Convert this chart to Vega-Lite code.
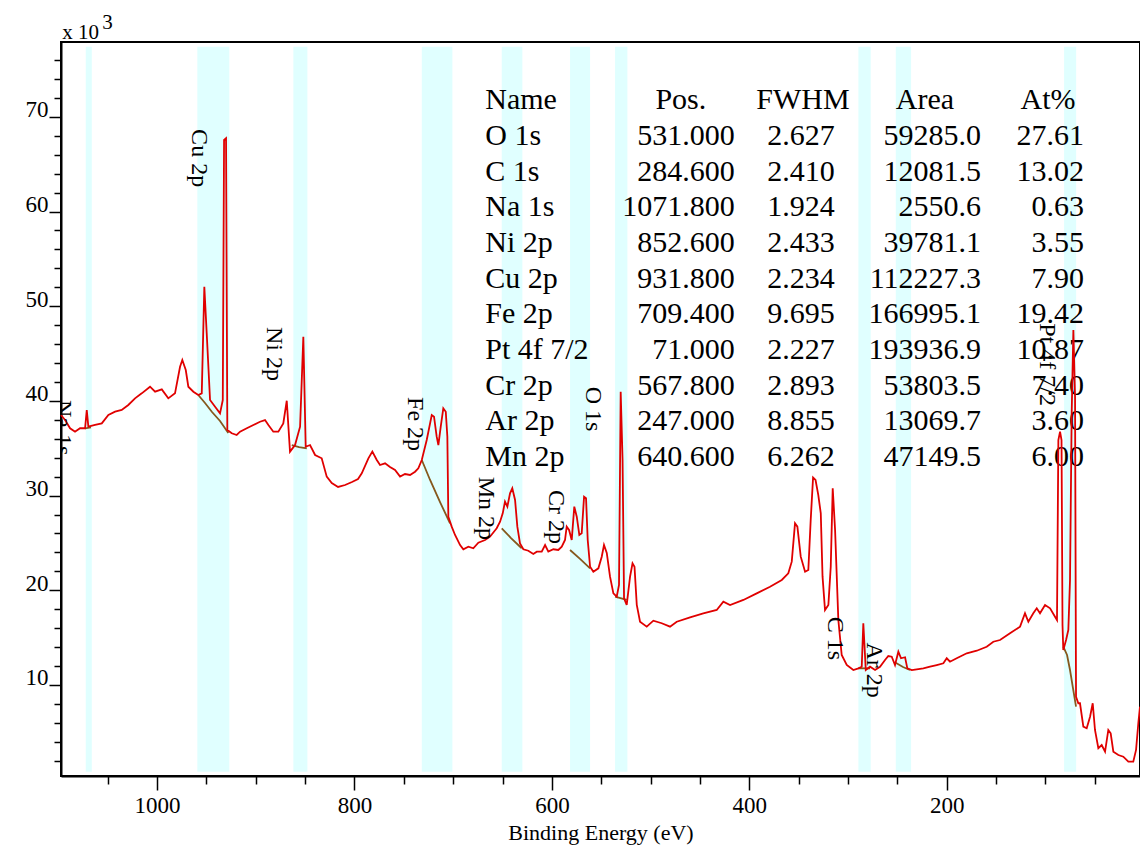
{
  "$schema": "https://vega.github.io/schema/vega-lite/v6.json",
  "autosize": {"type": "none"},
  "padding": {"left": 61, "top": 42, "right": 0, "bottom": 69},
  "width": 1079,
  "height": 734,
  "background": "white",
  "config": {"view": {"stroke": "black", "strokeWidth": 2}, "font": "Liberation Serif"},
  "datasets": {
    "bands": [
      {"peak": "Na 1s", "start": 1066.1, "end": 1072.2},
      {"peak": "Cu 2p", "start": 926.8, "end": 959.2},
      {"peak": "Ni 2p", "start": 847.7, "end": 861.9},
      {"peak": "Fe 2p", "start": 700.8, "end": 731.8},
      {"peak": "Mn 2p", "start": 629.9, "end": 650.8},
      {"peak": "Cr 2p", "start": 561.3, "end": 581.6},
      {"peak": "O 1s", "start": 523.5, "end": 536.0},
      {"peak": "C 1s", "start": 277.0, "end": 289.5},
      {"peak": "Ar 2p", "start": 236.1, "end": 251.6},
      {"peak": "Pt 4f 7/2", "start": 68.9, "end": 81.1}
    ],
    "table": [
      {"row": 0, "name": "Name", "pos": "Pos.", "fwhm": "FWHM", "area": "Area", "at": "At%"},
      {"row": 1, "name": "O 1s", "pos": "531.000", "fwhm": "2.627", "area": "59285.0", "at": "27.61"},
      {"row": 2, "name": "C 1s", "pos": "284.600", "fwhm": "2.410", "area": "12081.5", "at": "13.02"},
      {"row": 3, "name": "Na 1s", "pos": "1071.800", "fwhm": "1.924", "area": "2550.6", "at": "0.63"},
      {"row": 4, "name": "Ni 2p", "pos": "852.600", "fwhm": "2.433", "area": "39781.1", "at": "3.55"},
      {"row": 5, "name": "Cu 2p", "pos": "931.800", "fwhm": "2.234", "area": "112227.3", "at": "7.90"},
      {"row": 6, "name": "Fe 2p", "pos": "709.400", "fwhm": "9.695", "area": "166995.1", "at": "19.42"},
      {"row": 7, "name": "Pt 4f 7/2", "pos": "71.000", "fwhm": "2.227", "area": "193936.9", "at": "10.87"},
      {"row": 8, "name": "Cr 2p", "pos": "567.800", "fwhm": "2.893", "area": "53803.5", "at": "7.40"},
      {"row": 9, "name": "Ar 2p", "pos": "247.000", "fwhm": "8.855", "area": "13069.7", "at": "3.60"},
      {"row": 10, "name": "Mn 2p", "pos": "640.600", "fwhm": "6.262", "area": "47149.5", "at": "6.00"}
    ],
    "peaks": [
      {"label": "Na 1s", "E": 1095.0, "counts": 40.1},
      {"label": "Cu 2p", "E": 957.4, "counts": 68.7},
      {"label": "Ni 2p", "E": 881.5, "counts": 47.8},
      {"label": "Fe 2p", "E": 738.6, "counts": 40.4},
      {"label": "Mn 2p", "E": 666.7, "counts": 32.0},
      {"label": "Cr 2p", "E": 595.8, "counts": 30.6},
      {"label": "O 1s", "E": 558.3, "counts": 41.5},
      {"label": "C 1s", "E": 313.1, "counts": 17.2},
      {"label": "Ar 2p", "E": 273.6, "counts": 14.5},
      {"label": "Pt 4f 7/2", "E": 98.3, "counts": 48.2}
    ],
    "background": [
      {"region": "Na 1s", "E": 1072.9, "counts": 37.11},
      {"region": "Na 1s", "E": 1066.9, "counts": 37.2},
      {"region": "Cu 2p", "E": 958.2, "counts": 40.62},
      {"region": "Cu 2p", "E": 951.4, "counts": 39.78},
      {"region": "Cu 2p", "E": 944.3, "counts": 38.83},
      {"region": "Cu 2p", "E": 936.2, "counts": 37.88},
      {"region": "Cu 2p", "E": 927.8, "counts": 36.61},
      {"region": "Ni 2p", "E": 863.5, "counts": 35.34},
      {"region": "Ni 2p", "E": 856.1, "counts": 35.13},
      {"region": "Ni 2p", "E": 848.3, "counts": 34.99},
      {"region": "Fe 2p", "E": 731.8, "counts": 33.76},
      {"region": "Fe 2p", "E": 723.4, "counts": 31.65},
      {"region": "Fe 2p", "E": 713.3, "counts": 29.32},
      {"region": "Fe 2p", "E": 703.2, "counts": 27.07},
      {"region": "Mn 2p", "E": 650.8, "counts": 26.55},
      {"region": "Mn 2p", "E": 641.4, "counts": 25.52},
      {"region": "Mn 2p", "E": 630.6, "counts": 24.44},
      {"region": "Cr 2p", "E": 581.6, "counts": 24.26},
      {"region": "Cr 2p", "E": 571.5, "counts": 23.31},
      {"region": "Cr 2p", "E": 561.3, "counts": 22.32},
      {"region": "O 1s", "E": 536.0, "counts": 19.32},
      {"region": "O 1s", "E": 524.2, "counts": 18.98},
      {"region": "C 1s", "E": 289.5, "counts": 11.76},
      {"region": "C 1s", "E": 277.7, "counts": 11.76},
      {"region": "Ar 2p", "E": 251.7, "counts": 12.35},
      {"region": "Ar 2p", "E": 244.3, "counts": 11.9},
      {"region": "Ar 2p", "E": 237.2, "counts": 11.58},
      {"region": "Pt 4f 7/2", "E": 81.9, "counts": 14.04},
      {"region": "Pt 4f 7/2", "E": 78.1, "counts": 13.17},
      {"region": "Pt 4f 7/2", "E": 75.1, "counts": 11.58},
      {"region": "Pt 4f 7/2", "E": 72.1, "counts": 9.68},
      {"region": "Pt 4f 7/2", "E": 69.0, "counts": 7.71}
    ],
    "spectrum": [
      {"E": 1097.3, "counts": 38.51}, {"E": 1093.2, "counts": 37.98}, {"E": 1088.1, "counts": 37.11}, {"E": 1083.1, "counts": 36.75},
      {"E": 1078.0, "counts": 37.11}, {"E": 1072.9, "counts": 37.11}, {"E": 1071.2, "counts": 39.04}, {"E": 1069.6, "counts": 37.28},
      {"E": 1062.8, "counts": 37.46}, {"E": 1056.0, "counts": 37.63}, {"E": 1049.3, "counts": 38.51}, {"E": 1042.5, "counts": 38.86},
      {"E": 1035.8, "counts": 39.04}, {"E": 1029.1, "counts": 39.57}, {"E": 1022.3, "counts": 40.27}, {"E": 1015.5, "counts": 40.8},
      {"E": 1007.1, "counts": 41.5}, {"E": 1002.0, "counts": 40.97}, {"E": 995.2, "counts": 41.22}, {"E": 988.6, "counts": 40.27},
      {"E": 981.8, "counts": 40.8}, {"E": 976.7, "counts": 43.61}, {"E": 974.4, "counts": 44.32}, {"E": 970.9, "counts": 43.26},
      {"E": 968.3, "counts": 41.5}, {"E": 963.2, "counts": 40.97}, {"E": 958.2, "counts": 40.62}, {"E": 954.7, "counts": 40.8},
      {"E": 952.1, "counts": 52.06}, {"E": 949.7, "counts": 47.17}, {"E": 946.3, "counts": 40.09}, {"E": 941.2, "counts": 39.39},
      {"E": 936.2, "counts": 38.69}, {"E": 933.4, "counts": 40.09}, {"E": 932.1, "counts": 67.55}, {"E": 930.1, "counts": 67.73},
      {"E": 928.8, "counts": 36.93}, {"E": 924.3, "counts": 36.58}, {"E": 919.3, "counts": 36.4}, {"E": 915.9, "counts": 36.75},
      {"E": 909.1, "counts": 37.11}, {"E": 902.4, "counts": 37.46}, {"E": 895.7, "counts": 37.8}, {"E": 890.6, "counts": 37.98},
      {"E": 887.2, "counts": 37.46}, {"E": 882.2, "counts": 36.75}, {"E": 877.1, "counts": 36.75}, {"E": 872.1, "counts": 37.63},
      {"E": 868.6, "counts": 40.02}, {"E": 865.3, "counts": 34.64}, {"E": 860.2, "counts": 35.34}, {"E": 855.1, "counts": 37.28},
      {"E": 851.8, "counts": 46.78}, {"E": 849.4, "counts": 35.16}, {"E": 845.0, "counts": 35.34}, {"E": 839.9, "counts": 34.29},
      {"E": 833.2, "counts": 33.94}, {"E": 828.1, "counts": 32.0}, {"E": 823.0, "counts": 31.33}, {"E": 816.6, "counts": 30.91},
      {"E": 809.5, "counts": 31.12}, {"E": 802.5, "counts": 31.44}, {"E": 796.4, "counts": 31.75}, {"E": 792.6, "counts": 32.35},
      {"E": 785.9, "counts": 33.94}, {"E": 781.9, "counts": 34.64}, {"E": 777.4, "counts": 33.76}, {"E": 774.1, "counts": 33.23},
      {"E": 769.0, "counts": 33.41}, {"E": 764.0, "counts": 33.02}, {"E": 758.9, "counts": 32.7}, {"E": 753.8, "counts": 32.0},
      {"E": 748.8, "counts": 32.28}, {"E": 743.7, "counts": 32.18}, {"E": 738.6, "counts": 32.52}, {"E": 735.3, "counts": 32.88},
      {"E": 731.8, "counts": 33.76}, {"E": 726.8, "counts": 35.87}, {"E": 721.7, "counts": 38.51}, {"E": 719.4, "counts": 38.33},
      {"E": 716.7, "counts": 36.22}, {"E": 715.0, "counts": 35.34}, {"E": 712.6, "counts": 37.28}, {"E": 710.0, "counts": 39.22},
      {"E": 707.5, "counts": 38.86}, {"E": 705.9, "counts": 36.22}, {"E": 704.9, "counts": 27.77}, {"E": 701.5, "counts": 26.72},
      {"E": 698.1, "counts": 25.84}, {"E": 693.0, "counts": 24.78}, {"E": 689.7, "counts": 24.33}, {"E": 684.6, "counts": 24.6},
      {"E": 679.6, "counts": 24.44}, {"E": 674.5, "counts": 25.03}, {"E": 667.7, "counts": 25.31}, {"E": 662.7, "counts": 25.66},
      {"E": 655.9, "counts": 26.55}, {"E": 652.5, "counts": 27.24}, {"E": 649.8, "counts": 28.13}, {"E": 647.5, "counts": 29.36},
      {"E": 645.1, "counts": 28.83}, {"E": 642.4, "counts": 30.24}, {"E": 640.1, "counts": 30.77}, {"E": 637.3, "counts": 29.54},
      {"E": 635.0, "counts": 26.72}, {"E": 632.3, "counts": 24.96}, {"E": 628.9, "counts": 24.33}, {"E": 623.9, "counts": 24.18},
      {"E": 618.8, "counts": 23.83}, {"E": 615.3, "counts": 24.08}, {"E": 610.3, "counts": 24.08}, {"E": 606.9, "counts": 24.78},
      {"E": 603.6, "counts": 24.08}, {"E": 598.5, "counts": 24.33}, {"E": 593.5, "counts": 24.26}, {"E": 590.0, "counts": 24.6},
      {"E": 586.7, "counts": 25.31}, {"E": 585.0, "counts": 26.72}, {"E": 582.6, "counts": 26.37}, {"E": 579.9, "counts": 25.31},
      {"E": 577.3, "counts": 28.83}, {"E": 574.8, "counts": 27.77}, {"E": 572.2, "counts": 25.84}, {"E": 569.8, "counts": 26.02},
      {"E": 567.4, "counts": 29.88}, {"E": 565.4, "counts": 29.72}, {"E": 563.7, "counts": 25.31}, {"E": 561.3, "counts": 22.49},
      {"E": 558.0, "counts": 21.96}, {"E": 552.9, "counts": 22.32}, {"E": 549.5, "counts": 23.55}, {"E": 547.2, "counts": 24.78},
      {"E": 544.4, "counts": 23.94}, {"E": 541.1, "counts": 21.44}, {"E": 537.7, "counts": 19.68}, {"E": 534.3, "counts": 19.32},
      {"E": 532.0, "counts": 20.56}, {"E": 530.3, "counts": 40.97}, {"E": 528.4, "counts": 33.76}, {"E": 526.9, "counts": 19.16},
      {"E": 524.2, "counts": 18.45}, {"E": 520.8, "counts": 21.44}, {"E": 518.3, "counts": 22.85}, {"E": 516.3, "counts": 22.49},
      {"E": 514.0, "counts": 18.45}, {"E": 510.7, "counts": 16.68}, {"E": 503.9, "counts": 16.16}, {"E": 497.2, "counts": 16.79},
      {"E": 488.7, "counts": 16.52}, {"E": 480.3, "counts": 16.16}, {"E": 473.5, "counts": 16.68}, {"E": 460.0, "counts": 17.15},
      {"E": 446.6, "counts": 17.57}, {"E": 433.0, "counts": 17.92}, {"E": 426.3, "counts": 18.8}, {"E": 419.5, "counts": 18.45},
      {"E": 406.0, "counts": 18.98}, {"E": 392.5, "counts": 19.68}, {"E": 379.0, "counts": 20.38}, {"E": 367.1, "counts": 21.09},
      {"E": 360.5, "counts": 21.8}, {"E": 357.0, "counts": 23.02}, {"E": 353.7, "counts": 27.07}, {"E": 351.3, "counts": 26.72},
      {"E": 347.9, "counts": 23.55}, {"E": 343.5, "counts": 21.96}, {"E": 340.2, "counts": 22.14}, {"E": 337.8, "counts": 27.42},
      {"E": 335.4, "counts": 31.91}, {"E": 332.9, "counts": 31.65}, {"E": 330.1, "counts": 30.06}, {"E": 327.6, "counts": 28.13},
      {"E": 325.8, "counts": 21.44}, {"E": 323.3, "counts": 17.92}, {"E": 319.9, "counts": 18.45}, {"E": 317.5, "counts": 22.49},
      {"E": 315.5, "counts": 30.77}, {"E": 313.1, "counts": 26.37}, {"E": 309.8, "counts": 16.86}, {"E": 306.4, "counts": 13.17},
      {"E": 301.3, "counts": 12.11}, {"E": 294.6, "counts": 11.58}, {"E": 289.5, "counts": 11.76}, {"E": 286.1, "counts": 11.93},
      {"E": 284.5, "counts": 16.52}, {"E": 282.0, "counts": 11.58}, {"E": 277.7, "counts": 11.93}, {"E": 272.6, "counts": 11.58},
      {"E": 267.6, "counts": 11.93}, {"E": 262.5, "counts": 12.64}, {"E": 259.2, "counts": 13.06}, {"E": 255.7, "counts": 12.99},
      {"E": 252.4, "counts": 12.11}, {"E": 249.0, "counts": 13.52}, {"E": 246.3, "counts": 12.82}, {"E": 242.2, "counts": 12.93},
      {"E": 239.9, "counts": 11.76}, {"E": 235.4, "counts": 11.58}, {"E": 230.4, "counts": 11.66}, {"E": 223.7, "counts": 11.76},
      {"E": 216.9, "counts": 11.93}, {"E": 210.1, "counts": 12.11}, {"E": 203.4, "counts": 12.29}, {"E": 200.0, "counts": 12.82},
      {"E": 196.7, "counts": 12.46}, {"E": 189.9, "counts": 12.82}, {"E": 179.7, "counts": 13.35}, {"E": 169.6, "counts": 13.62},
      {"E": 159.5, "counts": 14.04}, {"E": 152.8, "counts": 14.57}, {"E": 146.0, "counts": 14.75}, {"E": 135.9, "counts": 15.46},
      {"E": 125.7, "counts": 16.16}, {"E": 120.7, "counts": 17.57}, {"E": 117.3, "counts": 16.68}, {"E": 112.3, "counts": 17.57},
      {"E": 108.8, "counts": 18.1}, {"E": 105.5, "counts": 17.57}, {"E": 100.4, "counts": 18.45}, {"E": 95.3, "counts": 18.1},
      {"E": 90.3, "counts": 17.21}, {"E": 88.3, "counts": 16.86}, {"E": 86.9, "counts": 35.87}, {"E": 85.2, "counts": 36.75},
      {"E": 83.7, "counts": 35.87}, {"E": 82.7, "counts": 16.34}, {"E": 81.9, "counts": 13.7}, {"E": 79.1, "counts": 14.75},
      {"E": 76.8, "counts": 15.81}, {"E": 75.1, "counts": 21.09}, {"E": 73.4, "counts": 38.72}, {"E": 71.7, "counts": 47.49},
      {"E": 70.0, "counts": 40.44}, {"E": 69.0, "counts": 8.76}, {"E": 66.7, "counts": 8.07}, {"E": 65.0, "counts": 8.07},
      {"E": 61.6, "counts": 5.6}, {"E": 58.2, "counts": 5.43}, {"E": 54.8, "counts": 6.65}, {"E": 52.1, "counts": 8.07},
      {"E": 49.8, "counts": 5.25}, {"E": 46.4, "counts": 3.32}, {"E": 43.0, "counts": 3.66}, {"E": 39.6, "counts": 2.96},
      {"E": 36.3, "counts": 5.25}, {"E": 33.9, "counts": 4.9}, {"E": 31.2, "counts": 2.96}, {"E": 26.1, "counts": 2.61},
      {"E": 21.1, "counts": 2.43}, {"E": 16.0, "counts": 1.9}, {"E": 11.0, "counts": 1.9}, {"E": 8.2, "counts": 3.14},
      {"E": 5.9, "counts": 5.96}, {"E": 4.2, "counts": 7.71}
    ]
  },
  "layer": [
    {
      "data": {"name": "bands"},
      "mark": {"type": "rect", "color": "#e0ffff"},
      "encoding": {
        "x": {"field": "start", "type": "quantitative", "scale": {"domain": [4.2, 1097.3], "reverse": true, "nice": false, "zero": false}, "axis": null},
        "x2": {"field": "end"},
        "y": {"datum": 0.85, "type": "quantitative", "scale": {"domain": [0.39, 77.9], "nice": false, "zero": false}, "axis": null},
        "y2": {"datum": 77.4}
      }
    },
    {
      "data": {"name": "table"},
      "encoding": {
        "y": {"field": "row", "type": "quantitative", "axis": null,
              "scale": {"domain": [-1.887, 18.69], "reverse": true, "nice": false, "zero": false}}
      },
      "layer": [
        {
          "mark": {"type": "text", "align": "left", "baseline": "alphabetic", "font": "Liberation Serif", "fontSize": 30, "color": "black"},
          "encoding": {"x": {"datum": 667.5, "type": "quantitative", "axis": null}, "text": {"field": "name", "type": "nominal"}}
        },
        {
          "transform": [{"filter": "datum.row === 0"}],
          "mark": {"type": "text", "align": "center", "baseline": "alphabetic", "font": "Liberation Serif", "fontSize": 30, "color": "black"},
          "encoding": {"x": {"datum": 469.4, "type": "quantitative", "axis": null}, "text": {"field": "pos", "type": "nominal"}}
        },
        {
          "transform": [{"filter": "datum.row > 0"}],
          "mark": {"type": "text", "align": "right", "baseline": "alphabetic", "font": "Liberation Serif", "fontSize": 30, "color": "black"},
          "encoding": {"x": {"datum": 414.7, "type": "quantitative", "axis": null}, "text": {"field": "pos", "type": "nominal"}}
        },
        {
          "transform": [{"filter": "datum.row === 0"}],
          "mark": {"type": "text", "align": "center", "baseline": "alphabetic", "font": "Liberation Serif", "fontSize": 30, "color": "black"},
          "encoding": {"x": {"datum": 345.6, "type": "quantitative", "axis": null}, "text": {"field": "fwhm", "type": "nominal"}}
        },
        {
          "transform": [{"filter": "datum.row > 0"}],
          "mark": {"type": "text", "align": "right", "baseline": "alphabetic", "font": "Liberation Serif", "fontSize": 30, "color": "black"},
          "encoding": {"x": {"datum": 313.4, "type": "quantitative", "axis": null}, "text": {"field": "fwhm", "type": "nominal"}}
        },
        {
          "transform": [{"filter": "datum.row === 0"}],
          "mark": {"type": "text", "align": "center", "baseline": "alphabetic", "font": "Liberation Serif", "fontSize": 30, "color": "black"},
          "encoding": {"x": {"datum": 222.0, "type": "quantitative", "axis": null}, "text": {"field": "area", "type": "nominal"}}
        },
        {
          "transform": [{"filter": "datum.row > 0"}],
          "mark": {"type": "text", "align": "right", "baseline": "alphabetic", "font": "Liberation Serif", "fontSize": 30, "color": "black"},
          "encoding": {"x": {"datum": 165.2, "type": "quantitative", "axis": null}, "text": {"field": "area", "type": "nominal"}}
        },
        {
          "transform": [{"filter": "datum.row === 0"}],
          "mark": {"type": "text", "align": "center", "baseline": "alphabetic", "font": "Liberation Serif", "fontSize": 30, "color": "black"},
          "encoding": {"x": {"datum": 97.4, "type": "quantitative", "axis": null}, "text": {"field": "at", "type": "nominal"}}
        },
        {
          "transform": [{"filter": "datum.row > 0"}],
          "mark": {"type": "text", "align": "right", "baseline": "alphabetic", "font": "Liberation Serif", "fontSize": 30, "color": "black"},
          "encoding": {"x": {"datum": 60.9, "type": "quantitative", "axis": null}, "text": {"field": "at", "type": "nominal"}}
        }
      ]
    },
    {
      "encoding": {
        "x": {"field": "E", "type": "quantitative", "title": "Binding Energy (eV)", "scale": {"domain": [4.2, 1097.3], "reverse": true, "nice": false, "zero": false}},
        "y": {"field": "counts", "type": "quantitative", "title": null, "scale": {"domain": [0.39, 77.9], "nice": false, "zero": false}}
      },
      "layer": [
        {
          "data": {"name": "background"},
          "mark": {"type": "line", "color": "#86581d", "strokeWidth": 1.8},
          "encoding": {
            "detail": {"field": "region", "type": "nominal"},
            "x": {"field": "E", "type": "quantitative", "title": null,
              "axis": {"orient": "bottom", "values": [50, 100, 150, 250, 300, 350, 450, 500, 550, 650, 700, 750, 850, 900, 950, 1050],
                       "labels": false, "title": null, "domain": false, "grid": false, "tickSize": 8, "tickWidth": 1.5, "tickColor": "black"}},
            "y": {"field": "counts", "type": "quantitative", "title": "3",
              "axis": {"orient": "left", "values": [2, 4, 6, 8, 12, 14, 16, 18, 22, 24, 26, 28, 32, 34, 36, 38, 42, 44, 46, 48, 52, 54, 56, 58, 62, 64, 66, 68, 72, 74, 76],
                       "labels": false, "domain": false, "grid": false, "tickSize": 7, "tickWidth": 1.5, "tickColor": "black",
                       "title": "3", "titleAngle": 0, "titleAlign": "left", "titleBaseline": "alphabetic", "titleX": 40.7, "titleY": -13.7,
                       "titleFont": "Liberation Serif", "titleFontSize": 21, "titleFontWeight": "normal", "titleColor": "black"}}
          }
        },
        {
          "data": {"name": "spectrum"},
          "mark": {"type": "line", "color": "#e00000", "strokeWidth": 1.8},
          "encoding": {
            "x": {"field": "E", "type": "quantitative", "title": "Binding Energy (eV)",
              "axis": {
                "orient": "bottom",
                "values": [0, 200, 400, 600, 800, 1000],
                "format": "d",
                "tickSize": 14, "tickWidth": 1.5, "tickColor": "black", "domainColor": "black", "domainWidth": 2,
                "labelFont": "Liberation Serif", "labelFontSize": 23, "labelColor": "black", "labelPadding": 4,
                "labelOverlap": false, "labelFlush": false, "grid": false,
                "titleFont": "Liberation Serif", "titleFontSize": 22, "titleFontWeight": "normal", "titleColor": "black", "titlePadding": 5
              }},
            "y": {"field": "counts", "type": "quantitative", "title": "x 10",
              "axis": {
                "orient": "left",
                "values": [10, 20, 30, 40, 50, 60, 70],
                "format": "d",
                "tickSize": 12, "tickWidth": 1.5, "tickColor": "black", "domainColor": "black", "domainWidth": 2,
                "labelFont": "Liberation Serif", "labelFontSize": 23, "labelColor": "black", "labelPadding": 1,
                "labelBaseline": "alphabetic", "labelOverlap": false, "labelFlush": false, "grid": false,
                "title": "x 10", "titleAngle": 0, "titleAlign": "left", "titleBaseline": "alphabetic", "titleX": 0.7, "titleY": -3.7,
                "titleFont": "Liberation Serif", "titleFontSize": 21, "titleFontWeight": "normal", "titleColor": "black"
              }}
          }
        },
        {
          "data": {"name": "peaks"},
          "mark": {"type": "text", "angle": 90, "align": "left", "baseline": "middle", "font": "Liberation Serif", "fontSize": 24, "color": "black", "clip": true},
          "encoding": {"x": {"field": "E", "type": "quantitative", "axis": null}, "y": {"field": "counts", "type": "quantitative", "axis": null}, "text": {"field": "label", "type": "nominal"}}
        }
      ],
      "resolve": {"axis": {"x": "independent", "y": "independent"}}
    }
  ],
  "resolve": {"scale": {"y": "independent"}}
}
